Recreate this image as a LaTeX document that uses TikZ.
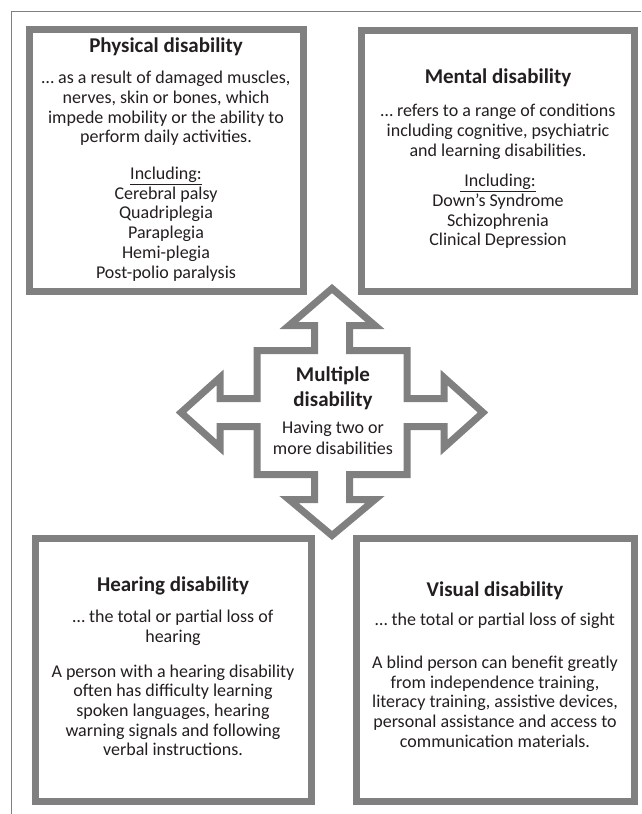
\documentclass[tikz,border=0pt]{standalone}
\usepackage{fontspec}
\setmainfont{Carlito}
\definecolor{framegray}{HTML}{808080}
\definecolor{ink}{HTML}{231F20}
\begin{document}
\begin{tikzpicture}[x=1pt,y=-1pt,
  panel/.style={draw=framegray, line width=7pt, fill=white, inner sep=0pt},
  head/.style={font=\fontsize{21}{25}\selectfont\bfseries, text=ink, inner sep=0pt},
  copy/.style={font=\fontsize{18}{19.7}\selectfont, text=ink, align=center, inner sep=0pt, anchor=north}]

\useasboundingbox (0,0) rectangle (641,814);
\fill[white] (0,0) rectangle (641,814);

% thin page rule along the top and left edges
\draw[framegray, line width=1pt] (11,814) -- (11,11) -- (641,11);

% the four category panels
\node[panel, minimum width=274pt, minimum height=262pt] (phys) at (166.5,160.5) {};
\node[panel, minimum width=273pt, minimum height=261pt] (ment) at (498,161) {};
\node[panel, minimum width=276pt, minimum height=263pt] (hear) at (173.5,670) {};
\node[panel, minimum width=278pt, minimum height=263pt] (vis)  at (495.5,670) {};

% four-way arrow in the middle
\coordinate (hub) at (332,412.5);
\begin{scope}[shift={(hub)}]
  \draw[draw=framegray, line width=7pt, fill=white, miter limit=10]
    (0,-124) -- (43,-87) -- (17.5,-87) -- (17.5,-62) -- (75,-62) -- (75,-14)
    -- (112,-14) -- (112,-35) -- (151,0) -- (112,35) -- (112,14) -- (75,14)
    -- (75,62) -- (17.5,62) -- (17.5,87) -- (43,87) -- (0,123) -- (-43,87)
    -- (-17.5,87) -- (-17.5,62) -- (-75,62) -- (-75,14) -- (-112,14)
    -- (-112,35) -- (-151,0) -- (-112,-35) -- (-112,-14) -- (-75,-14)
    -- (-75,-62) -- (-17.5,-62) -- (-17.5,-87) -- (-43,-87) -- cycle;
\end{scope}

% panel texts
\node[head] (physT) at (166,47) {Physical disability};
\node[copy] (physB) at (166,71) {… as a result of damaged muscles,\\ nerves, skin or bones, which\\ impede mobility or the ability to\\ perform daily activities.\\[17pt] \underline{Including:}\\ Cerebral palsy\\ Quadriplegia\\ Paraplegia\\ Hemi-plegia\\ Post-polio paralysis};

\node[head] (mentT) at (498,78) {Mental disability};
\node[copy] (mentB) at (498,104) {… refers to a range of conditions\\ including cognitive, psychiatric\\ and learning disabilities.\\[11pt] \underline{\ Including:}\\ Down’s Syndrome\\ Schizophrenia\\ Clinical Depression};

\node[font=\fontsize{21}{25}\selectfont\bfseries, text=ink, align=center, inner sep=0pt] (multT) at (333,388.5) {Multiple\\ disability};
\node[font=\fontsize{18}{21}\selectfont, text=ink, align=center, inner sep=0pt] (multB) at (333,438) {Having two or\\ more disabilities};

\node[head] (hearT) at (173,586) {Hearing disability};
\node[copy] (hearB) at (173,610) {… the total or partial loss of\\ hearing\\[15pt] A person with a hearing disability\\ often has difficulty learning\\ spoken languages, hearing\\ warning signals and following\\ verbal instructions.};

\node[head] (visT) at (495,591) {Visual disability};
\node[copy] (visB) at (495,613) {… the total or partial loss of sight\\[23pt] A blind person can benefit greatly\\ from independence training,\\ literacy training, assistive devices,\\ personal assistance and access to\\ communication materials.};
\end{tikzpicture}
\end{document}
